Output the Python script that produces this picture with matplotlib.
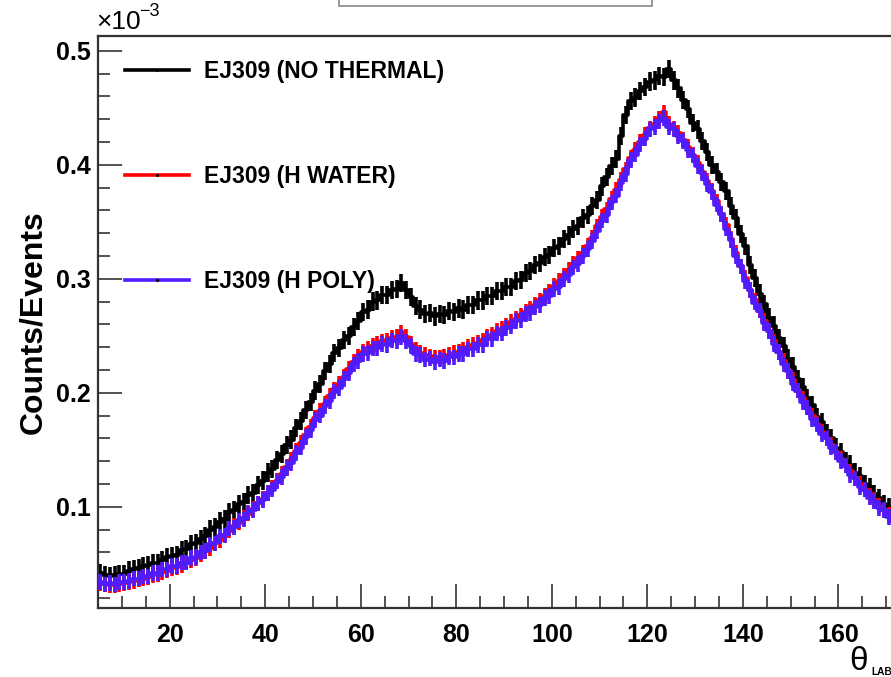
import numpy as np
import matplotlib
matplotlib.use("Agg")
import matplotlib.pyplot as plt
from matplotlib.lines import Line2D
from matplotlib.patches import Rectangle
from matplotlib.ticker import MultipleLocator

plt.rcParams['font.family'] = ['Liberation Sans', 'DejaVu Sans']

# 1 degree bins from 5 to 180 (values in units of 1e-3)
theta = np.arange(5.5, 180.0, 1.0)

no_thermal = [
    0.042, 0.040, 0.039, 0.040, 0.041, 0.041, 0.044, 0.045, 0.046, 0.048,
    0.049, 0.051, 0.051, 0.053, 0.056, 0.057, 0.058, 0.062, 0.063, 0.067,
    0.068, 0.072, 0.074, 0.080, 0.082, 0.087, 0.089, 0.095, 0.097, 0.102,
    0.104, 0.110, 0.112, 0.119, 0.123, 0.130, 0.133, 0.141, 0.146, 0.154,
    0.159, 0.169, 0.175, 0.185, 0.192, 0.202, 0.208, 0.219, 0.225, 0.235,
    0.239, 0.246, 0.250, 0.258, 0.263, 0.271, 0.273, 0.280, 0.281, 0.286,
    0.286, 0.290, 0.291, 0.296, 0.290, 0.284, 0.276, 0.273, 0.269, 0.270,
    0.267, 0.269, 0.268, 0.272, 0.271, 0.274, 0.273, 0.277, 0.277, 0.281,
    0.281, 0.285, 0.285, 0.289, 0.289, 0.293, 0.293, 0.298, 0.299, 0.305,
    0.307, 0.312, 0.314, 0.319, 0.321, 0.327, 0.329, 0.335, 0.338, 0.344,
    0.346, 0.353, 0.356, 0.364, 0.369, 0.381, 0.389, 0.399, 0.405, 0.425,
    0.444, 0.456, 0.459, 0.465, 0.468, 0.473, 0.474, 0.478, 0.477, 0.484,
    0.474, 0.467, 0.457, 0.449, 0.437, 0.431, 0.421, 0.411, 0.400, 0.394,
    0.385, 0.377, 0.364, 0.353, 0.339, 0.329, 0.312, 0.301, 0.287, 0.278,
    0.266, 0.259, 0.248, 0.241, 0.230, 0.223, 0.212, 0.205, 0.195, 0.189,
    0.179, 0.174, 0.165, 0.160, 0.152, 0.148, 0.140, 0.137, 0.130, 0.127,
    0.120, 0.117, 0.111, 0.108, 0.102, 0.100, 0.094, 0.092, 0.087, 0.085,
    0.080, 0.079, 0.074, 0.073, 0.068,
]

h_water = [
    0.033, 0.032, 0.031, 0.031, 0.032, 0.033, 0.034, 0.035, 0.036, 0.037,
    0.038, 0.040, 0.041, 0.043, 0.044, 0.046, 0.047, 0.049, 0.051, 0.053,
    0.055, 0.058, 0.061, 0.064, 0.068, 0.071, 0.075, 0.079, 0.083, 0.086,
    0.090, 0.094, 0.098, 0.103, 0.107, 0.112, 0.117, 0.123, 0.129, 0.135,
    0.141, 0.149, 0.156, 0.163, 0.170, 0.178, 0.184, 0.190, 0.197, 0.203,
    0.208, 0.214, 0.221, 0.227, 0.232, 0.236, 0.239, 0.241, 0.243, 0.245,
    0.246, 0.248, 0.249, 0.253, 0.249, 0.243, 0.238, 0.235, 0.233, 0.232,
    0.231, 0.231, 0.232, 0.233, 0.235, 0.236, 0.238, 0.240, 0.242, 0.244,
    0.246, 0.249, 0.251, 0.254, 0.256, 0.259, 0.262, 0.265, 0.268, 0.271,
    0.274, 0.277, 0.281, 0.285, 0.289, 0.294, 0.298, 0.303, 0.308, 0.313,
    0.318, 0.323, 0.329, 0.336, 0.346, 0.354, 0.361, 0.370, 0.378, 0.387,
    0.396, 0.406, 0.413, 0.420, 0.426, 0.432, 0.436, 0.440, 0.446, 0.436,
    0.432, 0.428, 0.422, 0.416, 0.409, 0.402, 0.394, 0.386, 0.377, 0.368,
    0.357, 0.347, 0.335, 0.323, 0.311, 0.301, 0.290, 0.281, 0.272, 0.263,
    0.254, 0.245, 0.236, 0.228, 0.219, 0.211, 0.202, 0.195, 0.187, 0.180,
    0.173, 0.166, 0.160, 0.154, 0.148, 0.142, 0.136, 0.131, 0.125, 0.120,
    0.115, 0.110, 0.106, 0.101, 0.097, 0.093, 0.089, 0.086, 0.082, 0.079,
    0.076, 0.073, 0.070, 0.068, 0.065,
]

h_poly = [
    0.034, 0.032, 0.033, 0.032, 0.034, 0.034, 0.035, 0.037, 0.037, 0.039,
    0.039, 0.042, 0.042, 0.045, 0.045, 0.048, 0.048, 0.051, 0.051, 0.055,
    0.056, 0.060, 0.061, 0.067, 0.068, 0.074, 0.075, 0.081, 0.082, 0.088,
    0.089, 0.095, 0.097, 0.103, 0.106, 0.112, 0.115, 0.122, 0.126, 0.134,
    0.138, 0.147, 0.152, 0.161, 0.167, 0.176, 0.180, 0.188, 0.193, 0.201,
    0.204, 0.212, 0.217, 0.225, 0.228, 0.234, 0.235, 0.239, 0.239, 0.243,
    0.242, 0.246, 0.245, 0.249, 0.245, 0.241, 0.234, 0.233, 0.229, 0.230,
    0.227, 0.229, 0.228, 0.231, 0.231, 0.234, 0.234, 0.238, 0.238, 0.242,
    0.242, 0.247, 0.247, 0.252, 0.252, 0.257, 0.258, 0.263, 0.264, 0.269,
    0.270, 0.275, 0.277, 0.283, 0.285, 0.291, 0.293, 0.300, 0.303, 0.310,
    0.313, 0.320, 0.326, 0.333, 0.342, 0.351, 0.356, 0.367, 0.373, 0.384,
    0.392, 0.404, 0.409, 0.418, 0.423, 0.431, 0.433, 0.438, 0.441, 0.433,
    0.431, 0.425, 0.421, 0.413, 0.408, 0.399, 0.393, 0.383, 0.376, 0.365,
    0.357, 0.344, 0.334, 0.320, 0.311, 0.298, 0.290, 0.279, 0.272, 0.261,
    0.254, 0.243, 0.236, 0.225, 0.219, 0.208, 0.202, 0.192, 0.187, 0.177,
    0.172, 0.164, 0.160, 0.152, 0.148, 0.140, 0.136, 0.128, 0.125, 0.117,
    0.115, 0.108, 0.105, 0.099, 0.097, 0.091, 0.089, 0.084, 0.082, 0.077,
    0.076, 0.071, 0.070, 0.066, 0.065,
]

labels = ['EJ309 (NO THERMAL)', 'EJ309 (H WATER)', 'EJ309 (H POLY)']
colors = ['#000000', '#ff0000', '#4f1bff']
errors = [0.0080, 0.0068, 0.0068]

fig = plt.figure(figsize=(8.91, 6.77), dpi=100)
# frame runs past the right edge of the picture (cropped like the original)
ax = fig.add_axes([98 / 891, 69 / 677, 836 / 891, 572 / 677])

for vals, c, e, z in zip([no_thermal, h_water, h_poly], colors, errors, [2, 3, 4]):
    ax.step(theta, vals, where='mid', color=c, lw=2.6, zorder=z)
    ax.errorbar(theta, vals, yerr=e, fmt='none', ecolor=c,
                elinewidth=2.6, capsize=0, zorder=z)

ax.set_xlim(5, 180)
ax.set_ylim(0.0112, 0.513)

ax.xaxis.set_major_locator(MultipleLocator(20))
ax.xaxis.set_minor_locator(MultipleLocator(5))
ax.yaxis.set_major_locator(MultipleLocator(0.1))
ax.yaxis.set_minor_locator(MultipleLocator(0.02))
ax.tick_params(which='both', direction='in', top=False, right=False,
               width=1.2, color='#333333')
ax.tick_params(which='major', length=17, labelsize=18)
ax.tick_params(axis='x', which='major', pad=11)
ax.tick_params(axis='y', which='major', pad=5)
ax.tick_params(which='minor', length=8.5)
ax.set_xticks([20, 40, 60, 80, 100, 120, 140, 160])
ax.set_xticklabels(['20', '40', '60', '80', '100', '120', '140', '160'],
                   fontweight='bold')
ax.set_yticks([0.1, 0.2, 0.3, 0.4, 0.5])
ax.set_yticklabels(['0.1', '0.2', '0.3', '0.4', '0.5'], fontweight='bold')
for s in ax.spines.values():
    s.set_linewidth(1.6)
    s.set_color('#333333')

ax.set_ylabel('Counts/Events', fontsize=23, fontweight='bold', labelpad=6)

handles = [Line2D([], [], color=c, lw=2.6, marker='.', ms=2.5,
                  mfc='black', mec='black') for c in colors]
ax.legend(handles, labels, loc='upper left', bbox_to_anchor=(0.032, 0.958),
          frameon=False, prop={'weight': 'bold', 'size': 16.5},
          handlelength=2.8, handletextpad=0.65, labelspacing=3.57,
          borderpad=0, borderaxespad=0)

fig.text(96 / 891, 1 - 29 / 677, '\u00d710', fontsize=19, va='baseline')
fig.text(139 / 891, 1 - 16 / 677, '\u22123', fontsize=13, va='baseline')

fig.text(849 / 891, 1 - 670 / 677, '\u03b8', fontsize=24, va='baseline')
fig.text(871 / 891, 1 - 675 / 677, 'LAB', fontsize=7.3, fontweight='bold',
         va='baseline')

# title box, mostly above the picture
fig.patches.append(Rectangle((339 / 891, 1 - 6 / 677), 313 / 891, 0.1,
                             transform=fig.transFigure, fill=True,
                             facecolor='white', edgecolor='#888888', lw=1.2))

fig.savefig('out.png', dpi=100)
